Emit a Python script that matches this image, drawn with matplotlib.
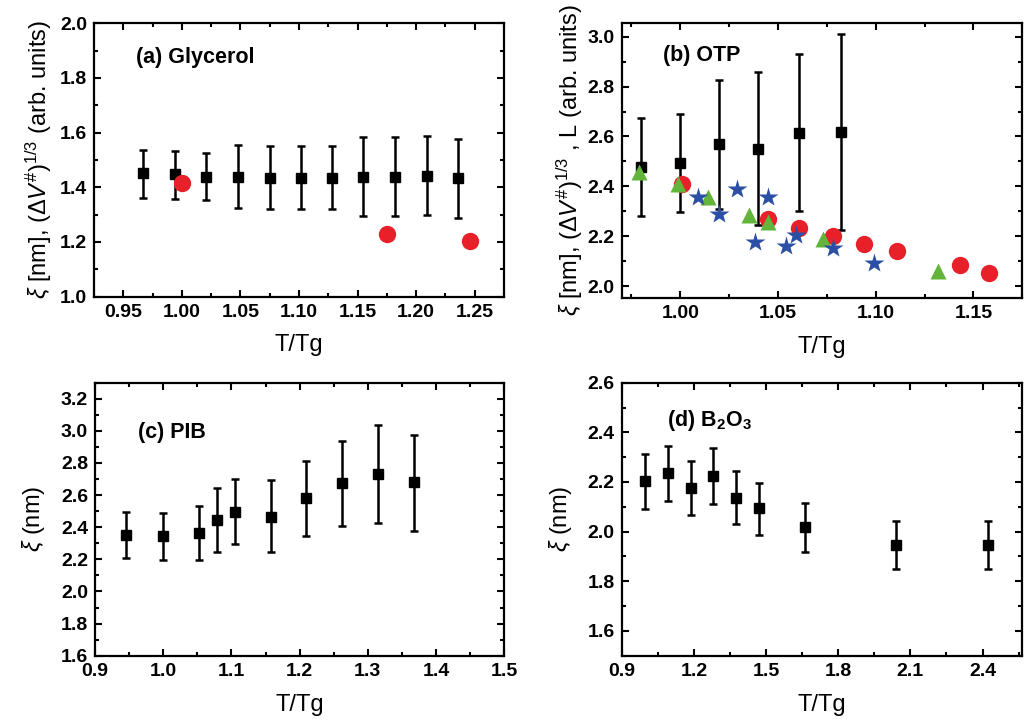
import matplotlib
matplotlib.use("Agg")
import matplotlib.pyplot as plt
from matplotlib.ticker import MultipleLocator, FormatStrFormatter

plt.rcParams['font.family'] = ['Liberation Sans', 'DejaVu Sans']
plt.rcParams['mathtext.fontset'] = 'custom'
plt.rcParams['mathtext.rm'] = 'Liberation Sans'
plt.rcParams['mathtext.it'] = 'Liberation Sans:italic'
plt.rcParams['mathtext.bf'] = 'Liberation Sans:bold'

# (a) Glycerol
gly_x = [0.967, 0.994, 1.021, 1.048, 1.075, 1.102, 1.128, 1.155, 1.182, 1.209, 1.236]
gly_y = [1.451, 1.448, 1.439, 1.439, 1.433, 1.435, 1.433, 1.439, 1.439, 1.443, 1.433]
gly_hi = [1.537, 1.533, 1.527, 1.555, 1.551, 1.551, 1.551, 1.585, 1.585, 1.588, 1.576]
gly_lo = [1.362, 1.356, 1.354, 1.323, 1.320, 1.320, 1.320, 1.295, 1.295, 1.299, 1.287]
gly_v_x = [1.000, 1.175, 1.246]
gly_v_y = [1.417, 1.228, 1.204]

# (b) OTP
otp_x = [0.980, 1.000, 1.020, 1.040, 1.061, 1.082]
otp_y = [2.479, 2.493, 2.568, 2.551, 2.615, 2.619]
otp_hi = [2.676, 2.691, 2.825, 2.857, 2.930, 3.012]
otp_lo = [2.281, 2.295, 2.310, 2.243, 2.302, 2.225]
otp_v_x = [1.001, 1.045, 1.061, 1.078, 1.094, 1.111, 1.143, 1.158]
otp_v_y = [2.408, 2.267, 2.234, 2.201, 2.167, 2.142, 2.083, 2.053]
otp_l_x = [0.979, 0.999, 1.014, 1.035, 1.045, 1.073, 1.132]
otp_l_y = [2.459, 2.408, 2.358, 2.285, 2.258, 2.187, 2.061]
otp_s_x = [1.009, 1.020, 1.029, 1.038, 1.045, 1.054, 1.059, 1.078, 1.099]
otp_s_y = [2.358, 2.287, 2.390, 2.178, 2.358, 2.160, 2.205, 2.151, 2.091]

# (c) PIB
pib_x = [0.946, 0.999, 1.052, 1.079, 1.105, 1.158, 1.210, 1.262, 1.315, 1.367]
pib_y = [2.352, 2.344, 2.366, 2.445, 2.497, 2.466, 2.580, 2.673, 2.731, 2.679]
pib_hi = [2.497, 2.487, 2.534, 2.644, 2.700, 2.694, 2.814, 2.938, 3.035, 2.973]
pib_lo = [2.207, 2.199, 2.199, 2.248, 2.296, 2.244, 2.348, 2.406, 2.427, 2.379]

# (d) B2O3
b2o3_x = [0.999, 1.093, 1.190, 1.280, 1.377, 1.471, 1.661, 2.042, 2.423]
b2o3_y = [2.204, 2.235, 2.175, 2.224, 2.137, 2.095, 2.017, 1.948, 1.948]
b2o3_hi = [2.311, 2.345, 2.285, 2.335, 2.245, 2.197, 2.117, 2.044, 2.044]
b2o3_lo = [2.092, 2.124, 2.067, 2.112, 2.032, 1.988, 1.917, 1.851, 1.851]

RED = '#e8202a'
GREEN = '#62b43a'
BLUE = '#2c4fa6'


def setup(ax, xlim, ylim, xmaj, ymaj, xfmt, yfmt):
    ax.set_xlim(*xlim)
    ax.set_ylim(*ylim)
    ax.xaxis.set_major_locator(MultipleLocator(xmaj))
    ax.xaxis.set_minor_locator(MultipleLocator(xmaj / 2))
    ax.yaxis.set_major_locator(MultipleLocator(ymaj))
    ax.yaxis.set_minor_locator(MultipleLocator(ymaj / 2))
    ax.xaxis.set_major_formatter(FormatStrFormatter(xfmt))
    ax.yaxis.set_major_formatter(FormatStrFormatter(yfmt))
    ax.tick_params(which='both', direction='in', top=True, right=True, width=1.5)
    ax.tick_params(which='major', length=5, labelsize=14, pad=5)
    ax.tick_params(which='minor', length=3)
    for lab in ax.get_xticklabels() + ax.get_yticklabels():
        lab.set_fontweight('bold')
    for sp in ax.spines.values():
        sp.set_linewidth(1.6)
    ax.set_xlabel('T/Tg', fontsize=17, labelpad=10)


def err(ax, x, y, hi, lo):
    yerr = [[yy - l for yy, l in zip(y, lo)], [h - yy for yy, h in zip(y, hi)]]
    ax.errorbar(x, y, yerr=yerr, fmt='s', color='black', ms=6.5,
                elinewidth=1.8, capsize=3, capthick=1.8, zorder=2)


fig = plt.figure(figsize=(10.25, 7.2), dpi=100)

ax_a = fig.add_axes([0.0917, 0.588, 0.4, 0.3797])
err(ax_a, gly_x, gly_y, gly_hi, gly_lo)
ax_a.plot(gly_v_x, gly_v_y, 'o', color=RED, ms=12.5, mec='none', zorder=3)
setup(ax_a, (0.925, 1.275), (1.0, 2.0), 0.05, 0.2, '%.2f', '%.1f')
ax_a.set_ylabel(r'$\xi$ [nm], ($\Delta V^{\#}$)$^{1/3}$ (arb. units)', fontsize=17, labelpad=4)
ax_a.text(0.102, 0.873, '(a) Glycerol', transform=ax_a.transAxes, fontsize=15.5,
          fontweight='bold', va='center')

ax_b = fig.add_axes([0.6065, 0.5865, 0.3908, 0.3811])
err(ax_b, otp_x, otp_y, otp_hi, otp_lo)
ax_b.plot(otp_v_x, otp_v_y, 'o', color=RED, ms=12.5, mec='none', zorder=3)
ax_b.plot(otp_l_x, otp_l_y, '^', color=GREEN, ms=11, mec='none', zorder=4)
ax_b.plot(otp_s_x, otp_s_y, '*', color=BLUE, ms=15, mec='none', zorder=5)
setup(ax_b, (0.970, 1.175), (1.953, 3.054), 0.05, 0.2, '%.2f', '%.1f')
ax_b.set_ylabel(r'$\xi$ [nm], ($\Delta V^{\#}$)$^{1/3}$ , L (arb. units)', fontsize=17, labelpad=2)
ax_b.text(0.103, 0.884, '(b) OTP', transform=ax_b.transAxes, fontsize=15.5,
          fontweight='bold', va='center')

ax_c = fig.add_axes([0.0927, 0.0893, 0.3993, 0.3792])
err(ax_c, pib_x, pib_y, pib_hi, pib_lo)
setup(ax_c, (0.9, 1.5), (1.6, 3.3), 0.1, 0.2, '%.1f', '%.1f')
ax_c.set_ylabel(r'$\xi$ (nm)', fontsize=17, labelpad=10)
ax_c.text(0.105, 0.819, '(c) PIB', transform=ax_c.transAxes, fontsize=15.5,
          fontweight='bold', va='center')

ax_d = fig.add_axes([0.6065, 0.0893, 0.3908, 0.3792])
err(ax_d, b2o3_x, b2o3_y, b2o3_hi, b2o3_lo)
setup(ax_d, (0.9, 2.565), (1.5, 2.6), 0.3, 0.2, '%.1f', '%.1f')
ax_d.set_ylabel(r'$\xi$ (nm)', fontsize=17, labelpad=10)
ax_d.text(0.113, 0.863, r'(d) B$_\mathbf{2}$O$_\mathbf{3}$', transform=ax_d.transAxes,
          fontsize=15.5, fontweight='bold', va='center')

fig.savefig('out.png', dpi=100)
